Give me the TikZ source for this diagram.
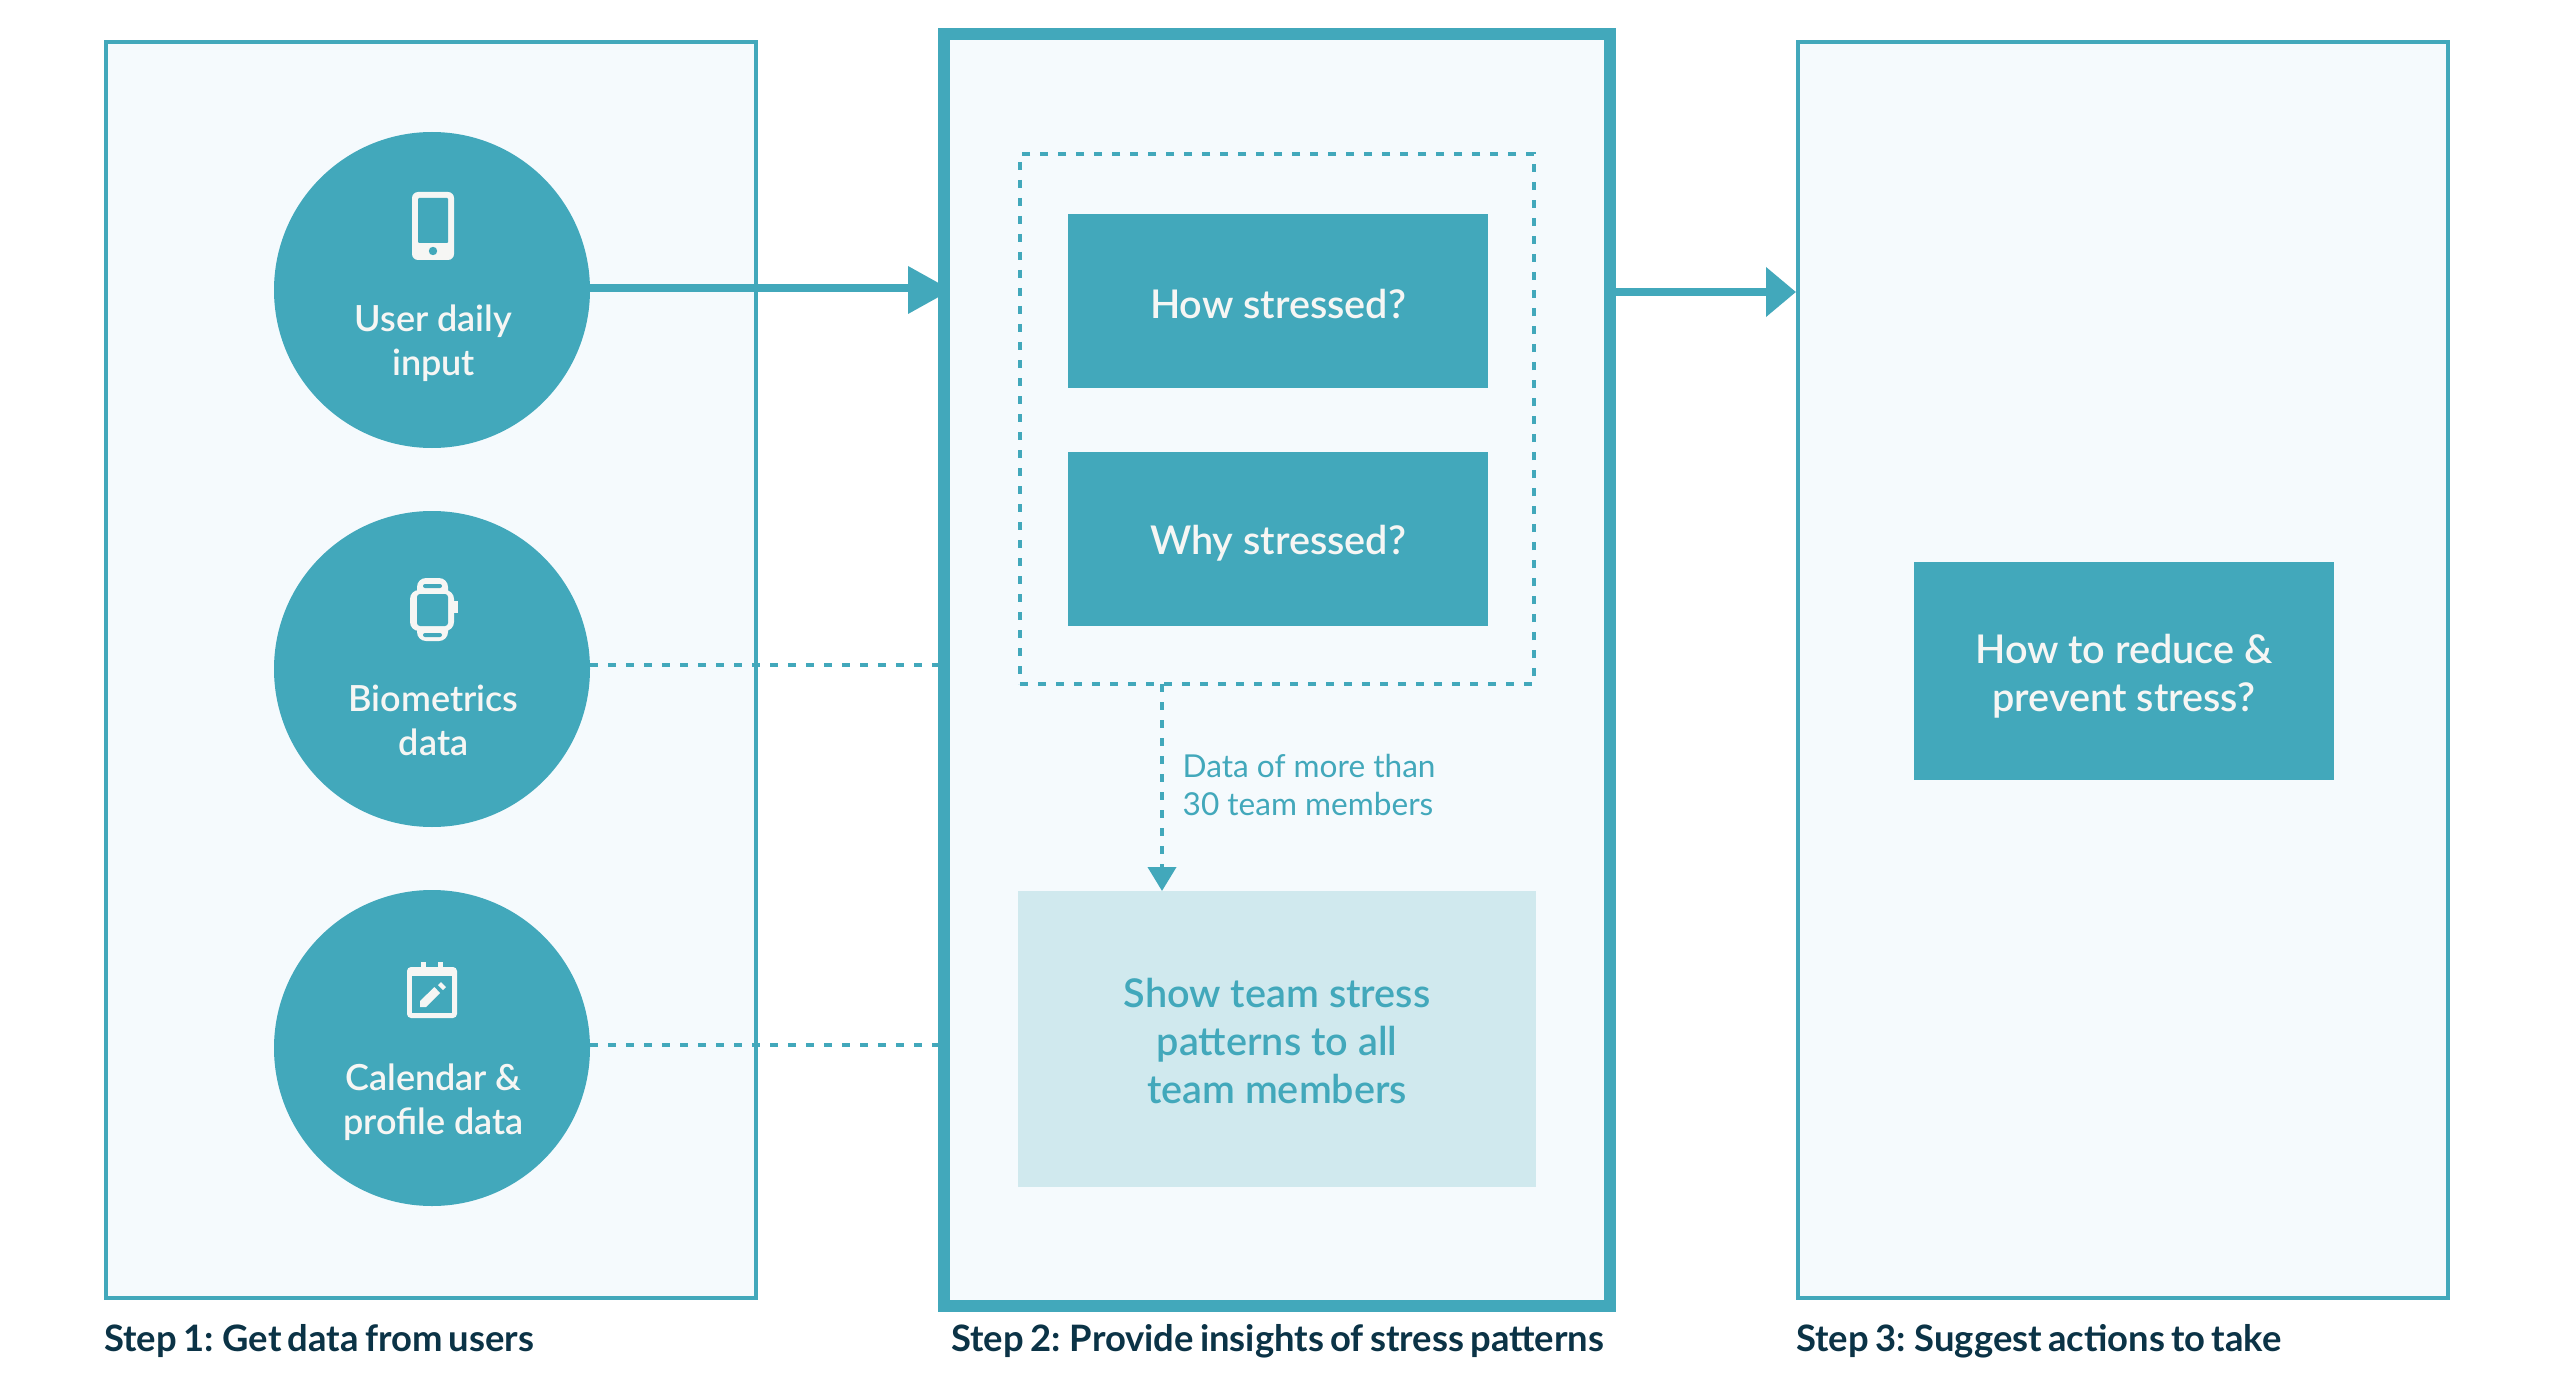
\documentclass[tikz,border=0pt]{standalone}
\usepackage{fontspec}
\setmainfont{Lato}
\newfontfamily\medfont{Lato Semibold}
\newfontfamily\capfont[WordSpace=0.7]{Lato Bold}
\usetikzlibrary{arrows.meta}
\definecolor{teal}{HTML}{42A8BB}
\definecolor{panelbg}{HTML}{F5FAFD}
\definecolor{lightbox}{HTML}{D0E9EE}
\definecolor{ink}{HTML}{0B3346}
\definecolor{paper}{HTML}{F6F6F4}
\tikzset{
  panel/.style={draw=teal,fill=panelbg,line width=4pt,inner sep=0pt},
  mainpanel/.style={panel,line width=12pt},
  source/.style={circle,fill=teal,minimum size=316pt,inner sep=0pt,outer sep=0pt},
  clabel/.style={text=paper,align=center,inner sep=0pt,font=\medfont\fontsize{36}{44}\selectfont},
  tealbox/.style={fill=teal,inner sep=0pt,outer sep=0pt},
  softbox/.style={fill=lightbox,inner sep=0pt,outer sep=0pt},
  boxtext/.style={text=paper,align=center,inner sep=0pt,font=\medfont\fontsize{39.6}{48}\selectfont},
  softtext/.style={text=teal,align=center,inner sep=0pt,font=\medfont\fontsize{39.6}{48}\selectfont},
  dashbox/.style={draw=teal,line width=4pt,dash pattern=on 8pt off 10pt,inner sep=0pt,outer sep=0pt},
  steplabel/.style={text=ink,anchor=base west,inner sep=0pt,font=\capfont\fontsize{36.4}{44}\selectfont},
  dashlink/.style={draw=teal,line width=4pt,dash pattern=on 8pt off 10pt},
  thick link/.style={draw=teal,line width=8pt},
  icon/.style={fill=paper,draw=none},
  cut/.style={fill=teal,draw=none}
}
\begin{document}
\begin{tikzpicture}[x=1pt,y=-1pt]
\useasboundingbox[fill=white] (0,0) rectangle (2554,1388);

\node[panel,minimum width=650pt,minimum height=1256pt] (p1) at (431,670) {};
\node[panel,minimum width=650pt,minimum height=1256pt] (p3) at (2123,670) {};

\node[source] (c1) at (432,290) {};
\node[source] (c2) at (432,669) {};
\node[source] (c3) at (432,1048) {};

\coordinate (a1s) at (590,288);
\coordinate (a2s) at (1616,292);
\coordinate (d2s) at (590,665);
\coordinate (d3s) at (590,1045);

\node[mainpanel,minimum width=666pt,minimum height=1272pt] (p2) at (1277,670) {};

\draw[thick link] (a1s) -- (a1s -| p2.west);
\fill[teal] (908,266) -- (938,282.7) -- (938,297.3) -- (908,314) -- cycle;
\draw[thick link,-{Triangle[length=30pt,width=48pt]}] (a2s) -- (a2s -| p3.west);
\draw[dashlink] (d2s) -- (d2s -| p2.west);
\draw[dashlink] (d3s) -- (d3s -| p2.west);

\node[clabel] (t1) at (433.5,343) {User daily\\input};
\node[clabel] (t2) at (433.5,720.5) {Biometrics\\data};
\node[clabel] (t3) at (433.5,1102.5) {Calendar \&\\profile data};

% phone icon
\fill[icon,rounded corners=6pt] (412,192) rectangle (454,260);
\fill[cut,rounded corners=1pt] (418,198) rectangle (448,243);
\fill[cut] (433,251) circle (4.2pt);

% watch icon
\fill[icon,rounded corners=9pt] (417,578) rectangle (448,600);
\fill[icon,rounded corners=9pt] (417,620) rectangle (448,641);
\fill[icon,rounded corners=9pt] (410,590) rectangle (454,631);
\fill[icon] (452,601) rectangle (458,613);
\fill[cut,rounded corners=3pt] (417,594) rectangle (448,626);
\fill[cut,rounded corners=2pt] (423,584) rectangle (442,588);
\fill[cut,rounded corners=2pt] (423,633) rectangle (442,637);

% calendar icon
\fill[icon] (421,962) rectangle (426,970);
\fill[icon] (438,962) rectangle (443,970);
\fill[icon,rounded corners=4pt] (407,967) rectangle (457,1018);
\fill[cut] (412,976) rectangle (452,1013);
\fill[icon] (420,1001) -- (434.5,987) -- (440,993) -- (426,1007) -- (420,1007) -- cycle;
\fill[icon] (441,982) -- (446,987) -- (443,990) -- (438,985) -- cycle;

% step 2 contents
\node[dashbox,minimum width=514pt,minimum height=530pt] (group) at (1277,419) {};
\node[tealbox,minimum width=420pt,minimum height=174pt] (how) at (1278,301) {};
\node[boxtext] (howt) at (1278,304) {How stressed?};
\node[tealbox,minimum width=420pt,minimum height=174pt] (why) at (1278,539) {};
\node[boxtext] (whyt) at (1278,543) {Why stressed?};
\node[softbox,minimum width=518pt,minimum height=296pt] (show) at (1277,1039) {};
\node[softtext] (showt) at (1277,1040.5) {Show team stress\\patterns to all\\team members};
\coordinate (ds) at (1162,684);
\draw[dashlink,-{Triangle[length=24pt,width=28pt]}] (ds) -- (ds |- show.north);
\node[text=teal,align=left,anchor=west,inner sep=0pt,font=\fontsize{31.6}{38}\selectfont] (data) at (1182.5,785) {Data of more than\\30 team members};

% step 3 contents
\node[tealbox,minimum width=420pt,minimum height=218pt] (reduce) at (2124,670.5) {};
\node[boxtext] (reducet) at (2124,676) {How to reduce \&\\prevent stress?};

% captions
\node[steplabel] (s1) at (104,1351) {Step 1: Get data from users};
\node[steplabel] (s2) at (951,1351) {Step 2: Provide insights of stress patterns};
\node[steplabel] (s3) at (1796,1351) {Step 3: Suggest actions to take};
\end{tikzpicture}
\end{document}
